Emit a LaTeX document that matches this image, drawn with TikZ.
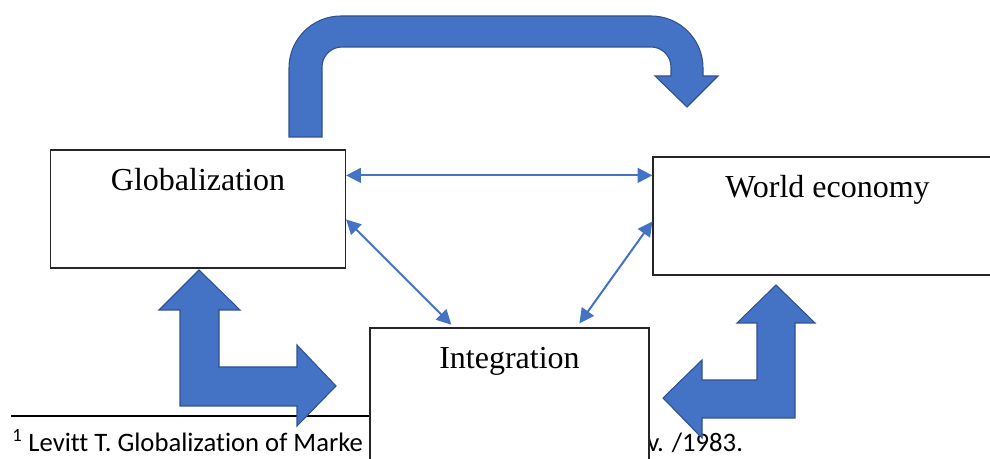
\documentclass[tikz,border=0pt]{standalone}
\usepackage{fontspec}
\setmainfont{Liberation Serif}
\newfontfamily\notefont[Ligatures={NoCommon}]{Carlito}
\usepackage{tikz}
\usetikzlibrary{positioning}
\usetikzlibrary{arrows.meta}
\definecolor{arrowblue}{HTML}{4472C4}
\definecolor{arrowedge}{HTML}{2F528F}

\begin{document}
\begin{tikzpicture}[x=0.75pt, y=-0.75pt,
    box/.style = {draw=black!85, line width=0.9pt, fill=white, inner sep=0pt},
    lbl/.style = {font=\fontsize{24}{29}\selectfont, anchor=base, inner sep=0pt},
    note/.style = {font=\notefont\fontsize{20}{24}\selectfont, anchor=base west, inner sep=0pt},
    link/.style = {draw=arrowblue, line width=1.5pt,
      {Triangle[length=11pt,width=11pt]}-{Triangle[length=11pt,width=11pt]}},
    blockarrow/.style = {fill=arrowblue, draw=arrowedge, line width=0.8pt, line join=miter}]
  \useasboundingbox (0,0) rectangle (990,459);
  % footnote under the picture
  \draw[line width=1.3pt] (11,416) -- (370,416);
  \node[note] (levitt) at (12,452) {\textsuperscript{1} Levitt T. Globalization of Marke};
  \node[note] (year) at (647,452) {v. /1983.};
  % the three boxes
  \node[box, minimum width=209.25pt, minimum height=112.5pt] (integ) at (509.5,403) {};
  \node[box, minimum width=221.25pt, minimum height=88.5pt] (glob) at (198,209) {};
  \node[box, minimum width=261.75pt, minimum height=88.5pt] (world) at (827.5,216) {};
  \node[lbl] (globtext) at ([yshift=-30.5pt]glob.north) {Globalization};
  \node[lbl] (worldtext) at ([yshift=-30.5pt]world.north) {World economy};
  \node[lbl] (integtext) at ([yshift=-30.5pt]integ.north) {Integration};
  % thin links
  \draw[link] ([yshift=-19.5pt]glob.north east) -- ([yshift=-14.25pt]world.north west);
  \draw[link] ([yshift=-52.5pt]glob.north east) -- ([xshift=61.5pt,yshift=2pt]integ.north west);
  \draw[link] ([yshift=-48.75pt]world.north west) -- ([xshift=157.5pt,yshift=3pt]integ.north west);
  % block arrows
  \filldraw[blockarrow] (289,137) -- (289,68) arc[start angle=180, end angle=90, radius=39pt]
    -- (651,16) arc[start angle=90, end angle=0, radius=39pt]
    -- (703,76) -- (718,76) -- (687,107) -- (655,76) -- (671,76) -- (671,67)
    arc[start angle=0, end angle=90, radius=15pt] -- (342,47)
    arc[start angle=90, end angle=180, radius=15pt] -- (322,137) -- cycle;
  \filldraw[blockarrow] (199,270) -- (240,310) -- (219,310) -- (219,367) -- (297,367)
    -- (297,345) -- (336,386) -- (297,426) -- (297,406) -- (180,406) -- (180,310)
    -- (159,310) -- cycle;
  \filldraw[blockarrow] (776,285) -- (815,323) -- (795,323) -- (795,418) -- (702,418)
    -- (702,438) -- (663,398) -- (702,360) -- (702,380) -- (757,380) -- (757,323)
    -- (737,323) -- cycle;
\end{tikzpicture}
\end{document}
